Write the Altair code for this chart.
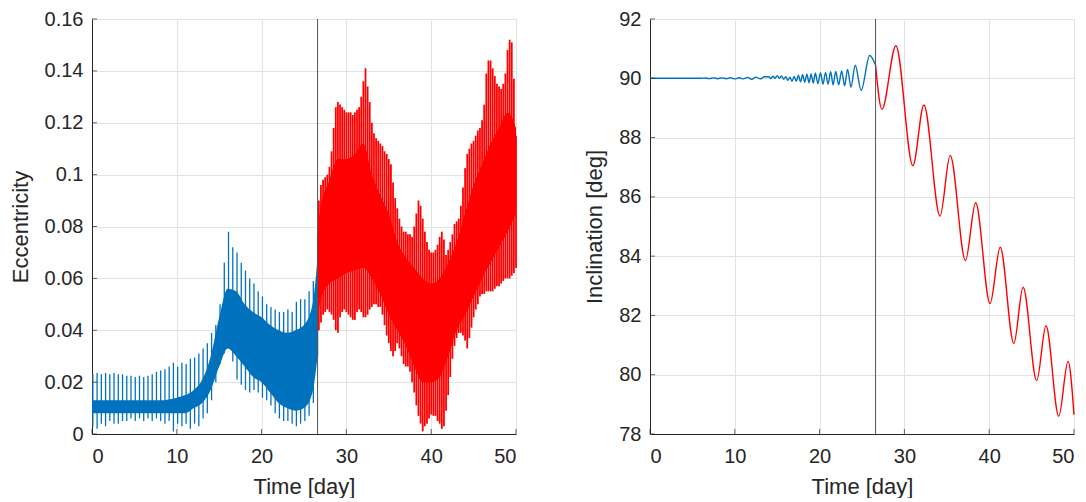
import altair as alt
import pandas as pd

BLUE = "#0072BD"
RED = "#FF0000"
FONT = "Liberation Sans"
INK = "#262626"

# ---------------- Eccentricity (left panel) ----------------
# blue phase: oscillation tips, one sample every 0.5 day from t = 0.1
ecc_blue_t0, ecc_blue_dt = 0.1, 0.5
ecc_blue_hi = [0.023, 0.0235, 0.023, 0.0235, 0.023, 0.0235, 0.023, 0.023, 0.0225, 0.0225,
               0.022, 0.0225, 0.022, 0.0225, 0.023, 0.024, 0.0245, 0.025, 0.026, 0.0275,
               0.026, 0.0275, 0.027, 0.029, 0.0295, 0.031, 0.033, 0.035, 0.039, 0.042,
               0.050, 0.066, 0.078, 0.072, 0.070, 0.066, 0.063, 0.060, 0.058, 0.055,
               0.053, 0.050, 0.049, 0.048, 0.047, 0.047, 0.048, 0.047, 0.051, 0.052,
               0.052, 0.055, 0.059, 0.077]
ecc_blue_lo = [0.003, 0.002, 0.004, 0.003, 0.005, 0.004, 0.004, 0.005, 0.005, 0.006,
               0.005, 0.006, 0.005, 0.006, 0.005, 0.006, 0.005, 0.004, 0.005, 0.001,
               0.004, 0.003, 0.004, 0.002, 0.004, 0.003, 0.006, 0.008, 0.013, 0.020,
               0.027, 0.031, 0.035, 0.028, 0.021, 0.019, 0.017, 0.016, 0.017, 0.016,
               0.014, 0.013, 0.011, 0.008, 0.006, 0.005, 0.005, 0.004, 0.003, 0.004,
               0.005, 0.007, 0.012, 0.030]
# blue phase: dense core band
ecc_blue_core_t = [0, 2, 4, 6, 8, 10, 11, 12, 13, 14, 15, 16, 17, 18, 19, 20, 21, 22, 23, 24, 25, 26, 26.6]
ecc_blue_core_lo = [0.008, 0.008, 0.008, 0.008, 0.008, 0.008, 0.008, 0.010, 0.012, 0.017, 0.026, 0.033,
                    0.030, 0.026, 0.022, 0.020, 0.016, 0.012, 0.010, 0.009, 0.010, 0.016, 0.030]
ecc_blue_core_hi = [0.013, 0.013, 0.013, 0.013, 0.013, 0.014, 0.015, 0.017, 0.021, 0.030, 0.045, 0.056,
                    0.055, 0.050, 0.047, 0.045, 0.042, 0.040, 0.039, 0.040, 0.042, 0.050, 0.068]

# red phase: oscillation tips, one sample every 0.25 day from t = 26.75
ecc_red_t0, ecc_red_dt = 26.75, 0.25
ecc_red_hi = [0.090,
              0.096, 0.098, 0.099, 0.100,
              0.103, 0.109, 0.118, 0.126,
              0.128, 0.127, 0.126, 0.125,
              0.124, 0.124, 0.124, 0.123,
              0.124, 0.125, 0.126, 0.130,
              0.136, 0.141, 0.134, 0.128,
              0.120, 0.116, 0.114, 0.113,
              0.112, 0.111, 0.109, 0.108,
              0.106, 0.104, 0.097, 0.091,
              0.087, 0.083, 0.080, 0.078,
              0.078, 0.077, 0.077, 0.076,
              0.080, 0.085, 0.090, 0.088,
              0.083, 0.078, 0.074, 0.071,
              0.070, 0.070, 0.071, 0.073,
              0.076, 0.078, 0.075, 0.069,
              0.071, 0.074, 0.077, 0.081,
              0.082, 0.083, 0.088, 0.095,
              0.1025, 0.108, 0.110, 0.112,
              0.113, 0.115, 0.117, 0.118,
              0.121, 0.127, 0.139, 0.144,
              0.144, 0.141, 0.138, 0.135,
              0.134, 0.133, 0.135, 0.139,
              0.148, 0.152, 0.151, 0.137,
              0.115]
ecc_red_lo = [0.040,
              0.043, 0.046, 0.047, 0.048,
              0.047, 0.046, 0.044, 0.040,
              0.039, 0.045, 0.047, 0.048,
              0.047, 0.046, 0.045, 0.044,
              0.044, 0.047, 0.048, 0.047,
              0.045, 0.045, 0.046, 0.048,
              0.049, 0.050, 0.050, 0.049,
              0.049, 0.046, 0.042, 0.038,
              0.035, 0.032, 0.030, 0.032,
              0.035, 0.033, 0.030, 0.027,
              0.026, 0.026, 0.024, 0.020,
              0.016, 0.011, 0.007, 0.004,
              0.001, 0.003, 0.004, 0.006,
              0.0075, 0.007, 0.007, 0.005,
              0.004, 0.002, 0.003, 0.009,
              0.015, 0.022, 0.029, 0.034,
              0.037, 0.039, 0.039, 0.038,
              0.036, 0.033, 0.037, 0.041,
              0.045, 0.048, 0.050, 0.053,
              0.054, 0.054, 0.055, 0.055,
              0.055, 0.055, 0.056, 0.057,
              0.057, 0.058, 0.059, 0.060,
              0.060, 0.060, 0.061, 0.062,
              0.064]
ecc_red_core_t = [26.6, 27, 28, 29, 30, 31, 32, 33, 34, 35, 36, 37, 38, 39, 40, 41, 42, 43, 44, 45, 46, 47, 48, 49, 50]
ecc_red_core_lo = [0.045, 0.052, 0.058, 0.060, 0.062, 0.063, 0.064, 0.060, 0.054, 0.046, 0.040, 0.034, 0.026,
                   0.020, 0.020, 0.022, 0.030, 0.040, 0.046, 0.053, 0.060, 0.066, 0.072, 0.078, 0.085]
ecc_red_core_hi = [0.080, 0.088, 0.098, 0.106, 0.106, 0.108, 0.112, 0.100, 0.092, 0.085, 0.074, 0.068, 0.064,
                   0.060, 0.058, 0.060, 0.066, 0.074, 0.085, 0.096, 0.104, 0.112, 0.118, 0.124, 0.118]

# ---------------- Inclination (right panel) ----------------
incl_blue_t = [0, 3, 6, 6.5, 7, 7.5, 8, 8.5, 9, 9.5, 10, 10.5, 11, 11.5, 12, 12.5, 13, 13.5,
               14.0, 14.25, 14.5, 14.75, 15.0, 15.25, 15.5, 15.75, 16.0, 16.25, 16.5, 16.75,
               17.0, 17.25, 17.5, 17.75, 18.0, 18.25, 18.5, 18.75, 19.0, 19.25, 19.5, 19.8,
               20.1, 20.4, 20.7, 21.0, 21.3, 21.6, 21.9, 22.25, 22.6, 22.95, 23.3, 23.7,
               24.2, 24.9, 25.9, 26.6]
incl_blue_v = [90.0, 90.0, 90.0, 90.01, 89.99, 90.015, 89.985, 90.015, 89.985, 90.02, 89.98, 90.02,
               89.98, 90.03, 89.97, 90.04, 89.98, 90.05,
               90.05, 89.99, 90.07, 90.0, 90.09, 90.0, 90.08, 89.97, 90.05, 89.93, 90.04, 89.9,
               90.06, 89.9, 90.1, 89.88, 90.12, 89.87, 90.14, 89.85, 90.15, 89.84, 90.17, 89.82,
               90.19, 89.8, 90.2, 89.8, 90.22, 89.78, 90.23, 89.78, 90.25, 89.75, 90.3, 89.7,
               90.44, 89.59, 90.77, 90.45]
incl_red_t = [26.6, 27.35, 29.0, 31.0, 32.3, 34.2, 35.4, 37.2, 38.4, 40.1, 41.3, 42.9, 44.0,
              45.6, 46.7, 48.2, 49.3, 50.0]
incl_red_v = [90.45, 88.95, 91.1, 87.05, 89.1, 85.35, 87.4, 83.85, 85.8, 82.4, 84.3, 81.05, 82.95,
              79.8, 81.65, 78.6, 80.45, 78.65]

switch_day = [26.6]
x_ticks = [0, 10, 20, 30, 40, 50]
ecc_ticks = [0, 0.02, 0.04, 0.06, 0.08, 0.1, 0.12, 0.14, 0.16]
incl_ticks = [78, 80, 82, 84, 86, 88, 90, 92]

# ---------------- tables ----------------
blue_df = pd.DataFrame({"t": [ecc_blue_t0 + ecc_blue_dt * i for i in range(len(ecc_blue_hi))],
                        "hi": ecc_blue_hi, "lo": ecc_blue_lo})
red_df = pd.DataFrame({"t": [ecc_red_t0 + ecc_red_dt * i for i in range(len(ecc_red_hi))],
                       "hi": ecc_red_hi, "lo": ecc_red_lo})
blue_core_df = pd.DataFrame({"t": ecc_blue_core_t, "lo": ecc_blue_core_lo, "hi": ecc_blue_core_hi})
red_core_df = pd.DataFrame({"t": ecc_red_core_t, "lo": ecc_red_core_lo, "hi": ecc_red_core_hi})
incl_blue_df = pd.DataFrame({"t": incl_blue_t, "v": incl_blue_v})
incl_red_df = pd.DataFrame({"t": incl_red_t, "v": incl_red_v})
switch_df = pd.DataFrame({"t": switch_day})
xtick_df = pd.DataFrame({"t": x_ticks})
ecc_tick_df = pd.DataFrame({"v": ecc_ticks})
incl_tick_df = pd.DataFrame({"v": incl_ticks})

W, H = 424, 415

xscale = alt.Scale(domain=[0, 50], nice=False, zero=False)
xaxis = alt.Axis(values=x_ticks, title="Time [day]", labelPadding=12, titlePadding=10)

ecc_scale = alt.Scale(domain=[0, 0.16], nice=False)
ecc_axis = alt.Axis(values=ecc_ticks, format="~g", title="Eccentricity", titlePadding=12)

incl_scale = alt.Scale(domain=[78, 92], nice=False, zero=False)
incl_axis = alt.Axis(values=incl_ticks, title="Inclination [deg]", titlePadding=12)


def ecc_layers(df, core_df, color, width):
    core = alt.Chart(core_df).mark_area(color=color, opacity=1, interpolate="monotone").encode(
        x=alt.X("t:Q", scale=xscale, axis=xaxis),
        y=alt.Y("lo:Q", scale=ecc_scale, axis=ecc_axis),
        y2="hi:Q",
    )
    spikes = alt.Chart(df).mark_rule(color=color, strokeWidth=width).encode(
        x=alt.X("t:Q", scale=xscale, axis=xaxis),
        y=alt.Y("lo:Q", scale=ecc_scale, axis=ecc_axis),
        y2="hi:Q",
    )
    return [core, spikes]


def inner_ticks(yscale, ydf):
    # MATLAB-style ticks pointing into the plot area
    xt = alt.Chart(xtick_df).mark_tick(color=INK, thickness=1, size=5, yOffset=-2.5).encode(
        x=alt.X("t:Q", scale=xscale), y=alt.value(H)
    )
    yt = alt.Chart(ydf).mark_tick(color=INK, thickness=1, size=5, xOffset=2.5).encode(
        y=alt.Y("v:Q", scale=yscale), x=alt.value(0)
    )
    return [xt, yt]


def vline():
    return alt.Chart(switch_df).mark_rule(color="#555555", strokeWidth=1).encode(
        x=alt.X("t:Q", scale=xscale, axis=xaxis)
    )


left = alt.layer(
    *ecc_layers(blue_df, blue_core_df, BLUE, 1.3),
    *ecc_layers(red_df, red_core_df, RED, 1.8),
    vline(),
    *inner_ticks(ecc_scale, ecc_tick_df),
).properties(width=W, height=H)

incl_blue = alt.Chart(incl_blue_df).mark_line(color=BLUE, strokeWidth=1.4, interpolate="monotone").encode(
    x=alt.X("t:Q", scale=xscale, axis=xaxis),
    y=alt.Y("v:Q", scale=incl_scale, axis=incl_axis),
)
incl_red = alt.Chart(incl_red_df).mark_line(color=RED, strokeWidth=1.4, interpolate="monotone").encode(
    x=alt.X("t:Q", scale=xscale, axis=xaxis),
    y=alt.Y("v:Q", scale=incl_scale, axis=incl_axis),
)
right = alt.layer(
    incl_blue, incl_red, vline(), *inner_ticks(incl_scale, incl_tick_df)
).properties(width=W, height=H)

chart = alt.hconcat(left, right, spacing=134, bounds="flush").properties(
    padding={"left": 0, "top": 0, "right": 0, "bottom": 0}
).configure_axis(
    labelFont=FONT, titleFont=FONT, labelFontSize=20, titleFontSize=22,
    labelColor=INK, titleColor=INK, titleFontWeight="normal",
    domainColor=INK, domainWidth=1, gridColor="#e3e3e3", gridWidth=1,
    ticks=False, labelPadding=9,
).configure_view(stroke="#d9d9d9", strokeWidth=1)

chart.save("out.html", embed_options={"renderer": "svg", "actions": False})
